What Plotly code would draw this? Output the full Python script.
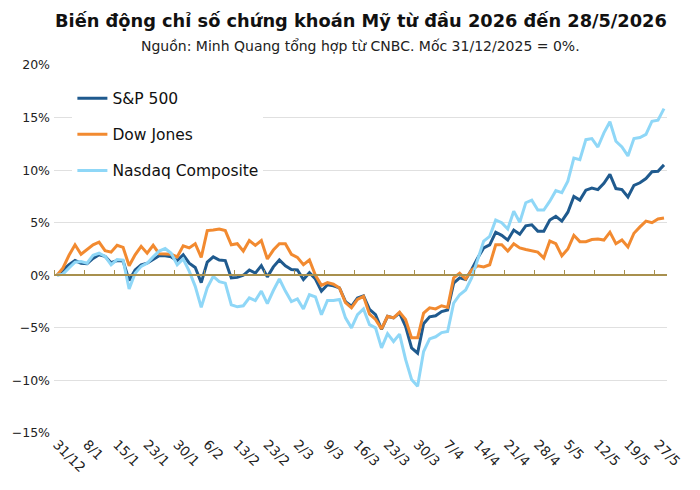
import plotly.graph_objects as go

labels = ["31/12", "8/1", "15/1", "23/1", "30/1", "6/2", "13/2", "23/2", "2/3", "9/3",
          "16/3", "23/3", "30/3", "7/4", "14/4", "21/4", "28/4", "5/5", "12/5", "19/5", "27/5"]

sp500 = [0, 0.5, 1.0, 1.4, 1.15, 1.1, 1.6, 1.95, 1.8, 1.2,
         1.4, 1.35, -0.5, 0.5, 1.0, 1.15, 1.5, 1.85, 1.85, 1.75,
         1.4, 1.95, 1.15, 0.75, -0.7, 1.25, 1.75, 1.45, 1.4, -0.25,
         -0.2, 0.0, 0.5, 0.2, 0.92, -0.15, 0.8, 1.45, 0.9, 0.55,
         0.5, -0.4, 0.25, -0.35, -1.5, -0.9, -1.0, -1.2, -2.5, -2.95,
         -2.15, -1.95, -3.25, -3.75, -5.15, -3.9, -4.05, -3.6, -4.85, -6.9,
         -7.4, -4.6, -3.95, -3.85, -3.45, -3.3, -0.75, -0.25, -0.4, 0.55,
         1.65, 2.6, 2.9, 4.1, 3.8, 3.35, 4.3, 3.9, 4.7, 4.8,
         4.2, 4.2, 5.25, 5.6, 5.15, 6.0, 7.5, 7.15, 8.1, 8.3,
         8.15, 8.75, 9.6, 8.25, 8.15, 7.45, 8.55, 8.8, 9.2, 9.85,
         9.9, 10.5]

dow = [0, 0.7, 1.9, 2.9, 2.0, 2.45, 2.9, 3.15, 2.35, 2.2,
       2.85, 2.65, 0.9, 1.95, 2.75, 2.1, 2.85, 2.05, 2.05, 2.0,
       1.75, 2.8, 2.6, 3.0, 1.7, 4.25, 4.3, 4.4, 4.25, 2.9,
       3.0, 2.3, 3.3, 2.85, 3.3, 1.55, 2.4, 3.0, 3.0, 2.0,
       1.7, 1.0, 1.45, 0.0, -0.95, -0.7, -0.85, -1.2, -2.6, -3.1,
       -2.3, -2.0, -3.7, -4.2, -5.1, -3.9, -4.05, -3.5, -4.2, -5.95,
       -5.95, -3.6, -3.1, -3.2, -2.9, -3.05, -0.25, 0.2, -0.35, 0.5,
       0.9, 0.8, 1.0, 2.9, 2.9, 2.3, 3.0, 2.6, 2.45, 2.3,
       2.2, 1.65, 3.25, 3.0, 1.85, 2.5, 3.8, 3.2, 3.2, 3.4,
       3.45, 3.35, 4.1, 3.0, 3.35, 2.7, 4.0, 4.6, 5.15, 5.0,
       5.35, 5.45]

nasdaq = [0, 0.1, 0.7, 1.25, 1.3, 1.15, 1.9, 2.1, 1.8, 1.0,
          1.5, 1.45, -1.3, 0.2, 0.85, 1.15, 1.75, 2.3, 2.55, 2.1,
          1.0, 1.55, 0.4, -1.05, -3.05, -1.2, -0.1, -0.6, -0.75, -2.8,
          -3.0, -2.9, -2.15, -2.4, -1.5, -2.7, -1.45, -0.35, -1.5, -2.5,
          -2.25, -3.2, -1.85, -2.05, -3.75, -2.4, -2.4, -2.3, -4.05, -5.0,
          -3.75, -3.2, -4.7, -5.0, -6.9, -5.55, -6.3, -5.6, -8.0, -9.9,
          -10.55, -7.25, -6.05, -5.85, -5.45, -5.35, -2.65, -1.85, -1.4, -0.25,
          1.5, 3.25, 3.7, 5.25, 5.0, 4.4, 6.1, 5.05, 6.9, 7.15,
          6.2, 6.2, 7.05, 8.05, 7.85, 8.95, 11.15, 11.0, 12.9, 13.0,
          12.2, 13.55, 14.6, 12.75, 12.2, 11.35, 13.0, 13.1, 13.4, 14.65,
          14.75, 15.85]

series = [("S&P 500", sp500, "#1F5A8E"),
          ("Dow Jones", dow, "#F28A30"),
          ("Nasdaq Composite", nasdaq, "#8FD7F7")]

n = len(sp500)
idx = list(range(n))
label_pos = [i * 5 for i in range(len(labels))]
tick_pos = [i * 5 - 0.5 for i in range(n // 5 + 1)]

FONT = "DejaVu Sans"
fig = go.Figure()
for k, (name, vals, col) in enumerate(series):
    fig.add_trace(go.Scatter(x=idx, y=vals, name=name, mode="lines",
                             line=dict(color=col, width=3),
                             legendgroup=str(k)))
# helper trace for the axis with tick marks at zero level
fig.add_trace(go.Scatter(x=[0], y=[0], xaxis="x2", mode="lines",
                         showlegend=False, hoverinfo="skip",
                         line=dict(color="rgba(0,0,0,0)")))

yr = [-15, 20]
fig.update_layout(
    width=692, height=482,
    margin=dict(l=46, r=33, t=57, b=57),
    plot_bgcolor="white", paper_bgcolor="white",
    font=dict(family=FONT, color="#222222"),
    showlegend=True,
    legend=dict(x=0.03, y=0.955, xanchor="left", yanchor="top",
                bgcolor="white", font=dict(size=15.5, family=FONT, color="#111111"),
                tracegroupgap=13, traceorder="grouped", itemwidth=30),
    xaxis=dict(range=[-0.5, n - 0.5], tickmode="array", tickvals=label_pos,
               ticktext=labels, tickangle=45, showgrid=False, zeroline=False,
               showline=False, ticks="", automargin=False,
               tickfont=dict(size=13.5, family=FONT, color="#222222")),
    xaxis2=dict(overlaying="x", matches="x", anchor="free", side="top",
                position=(0 - yr[0]) / (yr[1] - yr[0]),
                showline=True, linecolor="#A8904E", linewidth=1.5,
                ticks="outside", ticklen=5, tickwidth=1.2, tickcolor="#A8904E",
                tickmode="array", tickvals=tick_pos, ticktext=[""] * len(tick_pos),
                showticklabels=True, automargin=False, layer="above traces",
                showgrid=False, zeroline=False),
    yaxis=dict(range=yr, dtick=5, tick0=0, ticksuffix="%", showgrid=True,
               gridcolor="#E0E0E0", gridwidth=1, zeroline=False, showline=False,
               automargin=False, ticklabelstandoff=3,
               tickfont=dict(size=12.5, family=FONT, color="#222222")),
    annotations=[
        dict(text="<b>Biến động chỉ số chứng khoán Mỹ từ đầu 2026 đến 28/5/2026</b>",
             xref="paper", yref="paper", x=0.5, y=1, yshift=45, xanchor="center",
             yanchor="middle", showarrow=False,
             font=dict(size=17.8, family=FONT, color="#111111")),
        dict(text="Nguồn: Minh Quang tổng hợp từ CNBC. Mốc 31/12/2025 = 0%.",
             xref="paper", yref="paper", x=0.5, y=1, yshift=19, xanchor="center",
             yanchor="middle", showarrow=False,
             font=dict(size=14, family=FONT, color="#222222")),
    ],
)
fig.write_html("out.html")
